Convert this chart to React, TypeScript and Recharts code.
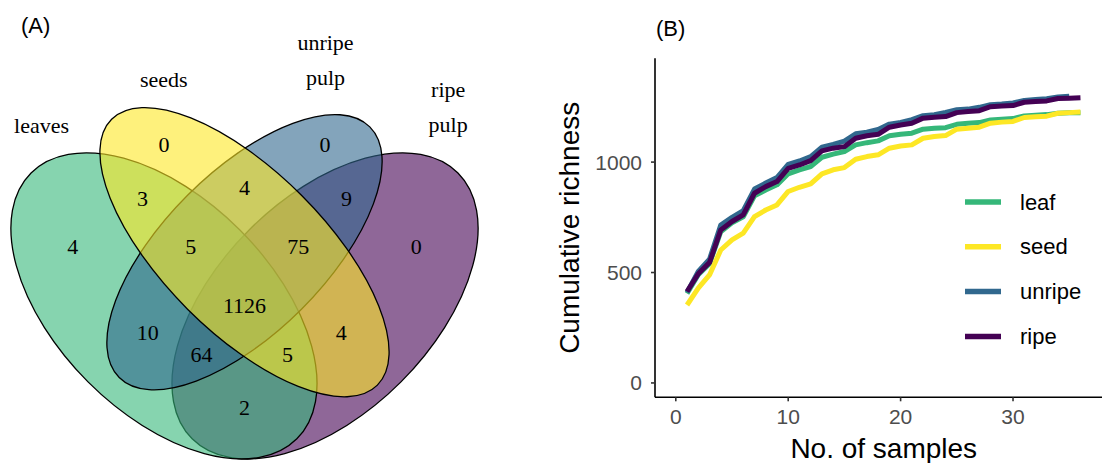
import React from 'react';
import { ScatterChart, Scatter, XAxis, YAxis, LineChart, Line, Legend } from 'recharts';

// ---------- Panel B data ----------
const sampleCount = [1, 2, 3, 4, 5, 6, 7, 8, 9, 10, 11, 12, 13, 14, 15, 16, 17, 18, 19, 20, 21, 22, 23, 24, 25, 26, 27, 28, 29, 30, 31, 32, 33, 34, 35, 36];
const leafRichness = [405, 490, 540, 685, 725, 752, 847, 874, 897, 947, 965, 980, 1022, 1036, 1048, 1078, 1088, 1096, 1119, 1126, 1131, 1149, 1153, 1156, 1171, 1176, 1179, 1191, 1194, 1197, 1209, 1212, 1215, 1221, 1223, 1224];
const seedRichness = [353, 429, 489, 602, 648, 678, 753, 783, 806, 867, 886, 901, 947, 965, 975, 1013, 1025, 1033, 1063, 1073, 1078, 1108, 1116, 1120, 1149, 1153, 1158, 1176, 1181, 1184, 1202, 1205, 1208, 1221, 1224, 1227];
const unripeRichness = [410, 505, 560, 715, 750, 780, 878, 905, 930, 990, 1005, 1025, 1068, 1080, 1095, 1128, 1135, 1148, 1172, 1180, 1192, 1210, 1215, 1225, 1237, 1240, 1248, 1260, 1263, 1268, 1279, 1283, 1287, 1295, 1298];
const ripeRichness = [414, 494, 545, 693, 731, 761, 859, 889, 912, 972, 987, 1007, 1051, 1063, 1070, 1108, 1119, 1126, 1158, 1168, 1176, 1199, 1203, 1206, 1224, 1229, 1233, 1251, 1254, 1256, 1271, 1274, 1277, 1288, 1289, 1291];
const seriesNames = ['leaf', 'seed', 'unripe', 'ripe'];
const seriesColors = ['#35B779', '#FDE725', '#31688E', '#440154'];
const xTicks = [0, 10, 20, 30];
const yTicks = [0, 500, 1000];

// ---------- Panel A data (VennDiagram unit coordinates) ----------
const ellipseSets = ['ripe pulp', 'leaves', 'unripe pulp', 'seeds'];
const ellipseCx = [0.65, 0.35, 0.5, 0.5];
const ellipseCy = [0.47, 0.47, 0.57, 0.57];
const ellipseA = [0.35, 0.35, 0.33, 0.35];
const ellipseB = [0.2, 0.2, 0.15, 0.15];
const ellipseRot = [45, 135, 45, 135];
const ellipseColors = ['#440154', '#35B779', '#31688E', '#FDE725'];

const regionCounts = [0, 0, 4, 3, 9, 4, 5, 75, 0, 1126, 10, 4, 64, 5, 2];
const regionX = [0.35, 0.65, 0.5, 0.31, 0.69, 0.18, 0.4, 0.6, 0.82, 0.5, 0.32, 0.68, 0.42, 0.58, 0.5];
const regionY = [0.77, 0.77, 0.69, 0.67, 0.67, 0.58, 0.58, 0.58, 0.58, 0.47, 0.42, 0.42, 0.38, 0.38, 0.28];

const categoryLabels = [['leaves'], ['seeds'], ['unripe', 'pulp'], ['ripe', 'pulp']];
const categoryX = [0.122, 0.3497, 0.6508, 0.8793];
const categoryY = [0.7914, 0.8782, 0.9466, 0.859];

const VENN_W = 490;
const VENN_H = 463;
const VENN_XDOM: [number, number] = [0.04469, 0.95717];
const VENN_YDOM: [number, number] = [0.17747, 1.03966];
const PX_PER_UNIT = VENN_W / (VENN_XDOM[1] - VENN_XDOM[0]);

const ellipseData = ellipseSets.map((s, i) => ({
  set: s, x: ellipseCx[i], y: ellipseCy[i], a: ellipseA[i], b: ellipseB[i], rot: ellipseRot[i], color: ellipseColors[i],
}));
const regionData = regionCounts.map((c, i) => ({ x: regionX[i], y: regionY[i], label: String(c) }));
const categoryData = categoryLabels.map((l, i) => ({ x: categoryX[i], y: categoryY[i], lines: l }));

const lineData = sampleCount.map((n, i) => ({
  n,
  leaf: leafRichness[i],
  seed: seedRichness[i],
  unripe: unripeRichness[i],
  ripe: ripeRichness[i],
}));
const seriesKeys = ['leaf', 'seed', 'unripe', 'ripe'];

const SERIF = '"Liberation Serif", "DejaVu Serif", serif';
const SANS = '"Liberation Sans", Arial, sans-serif';

const EllipseShape = (props: any) => {
  const { cx, cy, payload } = props;
  return (
    <ellipse
      cx={cx}
      cy={cy}
      rx={payload.a * PX_PER_UNIT}
      ry={payload.b * PX_PER_UNIT}
      transform={`rotate(${-payload.rot} ${cx} ${cy})`}
      fill={payload.color}
      fillOpacity={0.6}
      stroke="#000"
      strokeWidth={1.3}
    />
  );
};

const CountShape = (props: any) => {
  const { cx, cy, payload } = props;
  return (
    <text x={cx} y={cy} textAnchor="middle" dominantBaseline="central" fontFamily={SERIF} fontSize={22} fill="#000">
      {payload.label}
    </text>
  );
};

const CategoryShape = (props: any) => {
  const { cx, cy, payload } = props;
  return (
    <text x={cx} y={cy} textAnchor="middle" fontFamily={SERIF} fontSize={22} fill="#000">
      {payload.lines.map((t: string, i: number) => (
        <tspan key={i} x={cx} dy={i === 0 ? 0 : 35}>{t}</tspan>
      ))}
    </text>
  );
};

const LegendContent = () => (
  <svg width={170} height={190}>
    {seriesNames.map((name, i) => {
      const y = 27 + i * 44.8;
      return (
        <g key={name}>
          <line x1={5} x2={41} y1={y} y2={y} stroke={seriesColors[i]} strokeWidth={5.5} />
          <text x={60} y={y} dominantBaseline="central" fontFamily={SANS} fontSize={22} fill="#000">{name}</text>
        </g>
      );
    })}
  </svg>
);

export default function App() {
  return (
    <div style={{ position: 'absolute', left: 0, top: 0, width: 1102, height: 463, overflow: 'hidden', background: '#fff' }}>
      <div style={{ position: 'absolute', left: 0, top: 0 }}>
        <ScatterChart width={VENN_W} height={VENN_H} margin={{ top: 0, right: 0, bottom: 0, left: 0 }}>
          <XAxis type="number" dataKey="x" domain={VENN_XDOM} allowDataOverflow hide />
          <YAxis type="number" dataKey="y" domain={VENN_YDOM} allowDataOverflow hide />
          <Scatter data={ellipseData} shape={EllipseShape} isAnimationActive={false} />
          <Scatter data={regionData} shape={CountShape} isAnimationActive={false} />
          <Scatter data={categoryData} shape={CategoryShape} isAnimationActive={false} />
        </ScatterChart>
      </div>
      <div style={{ position: 'absolute', left: 550, top: 0 }}>
        <LineChart width={600} height={463} data={lineData} margin={{ top: 58.3, right: 37.5, bottom: 15.7, left: 5 }}>
          <XAxis
            type="number"
            dataKey="n"
            domain={[-1.85, 38.85]}
            ticks={xTicks}
            allowDataOverflow
            height={50}
            axisLine={{ stroke: '#000', strokeWidth: 1.6 }}
            tickLine={{ stroke: '#333', strokeWidth: 1.6 }}
            tickSize={4}
            tickMargin={8}
            tick={{ fill: '#4D4D4D', fontSize: 21, fontFamily: SANS }}
            label={(p: any) => (
              <text
                x={p.viewBox.x + p.viewBox.width / 2}
                y={p.viewBox.y + 60.5}
                textAnchor="middle"
                fontFamily={SANS}
                fontSize={28}
                fill="#000"
              >
                No. of samples
              </text>
            )}
          />
          <YAxis
            type="number"
            domain={[-65, 1470]}
            ticks={yTicks}
            allowDataOverflow
            width={100}
            axisLine={{ stroke: '#000', strokeWidth: 1.6 }}
            tickLine={{ stroke: '#333', strokeWidth: 1.6 }}
            tickSize={4}
            tickMargin={9}
            tick={{ fill: '#4D4D4D', fontSize: 21, fontFamily: SANS }}
            label={(p: any) => {
              const x = p.viewBox.x + 15;
              const y = p.viewBox.y + p.viewBox.height / 2;
              return (
                <text
                  x={x}
                  y={y}
                  transform={`rotate(-90 ${x} ${y})`}
                  textAnchor="middle"
                  dominantBaseline="central"
                  fontFamily={SANS}
                  fontSize={28}
                  fill="#000"
                >
                  Cumulative richness
                </text>
              );
            }}
          />
          {seriesKeys.map((k, i) => (
            <Line
              key={k}
              type="linear"
              dataKey={k}
              name={seriesNames[i]}
              stroke={seriesColors[i]}
              strokeWidth={5}
              strokeLinejoin="round"
              dot={false}
              activeDot={false}
              isAnimationActive={false}
            />
          ))}
          <Legend
            layout="vertical"
            align="center"
            verticalAlign="middle"
            content={LegendContent}
            wrapperStyle={{ left: 410, top: 175, width: 170, height: 190 }}
          />
        </LineChart>
      </div>
      <svg width={1102} height={463} style={{ position: 'absolute', left: 0, top: 0, pointerEvents: 'none' }}>
        <text x={21} y={33} fontFamily={SANS} fontSize={22} fill="#000">(A)</text>
        <text x={656} y={36} fontFamily={SANS} fontSize={22} fill="#000">(B)</text>
      </svg>
    </div>
  );
}
